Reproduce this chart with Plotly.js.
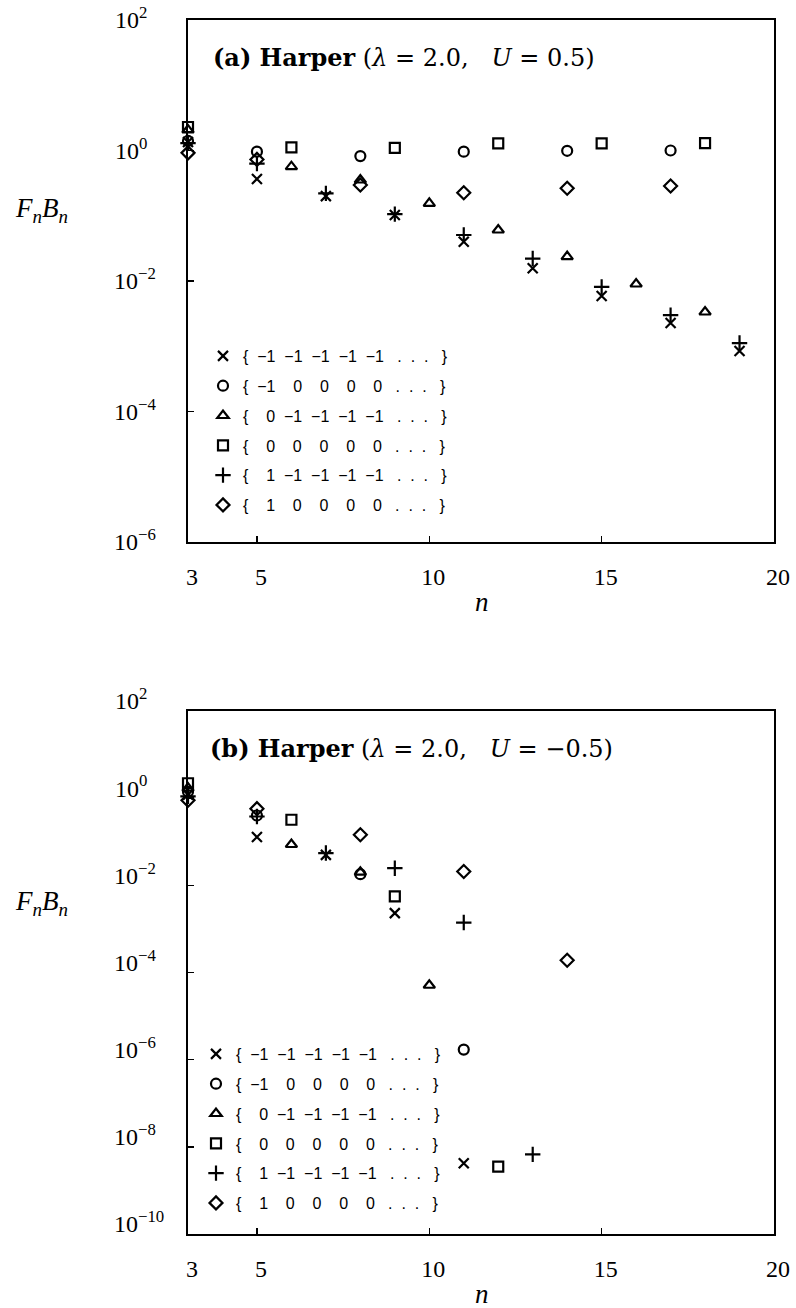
<!DOCTYPE html>
<html>
<head>
<meta charset="utf-8">
<script src="https://cdn.plot.ly/plotly-3.0.1.min.js"></script>
<style>html,body{margin:0;padding:0;background:#fff;}#chart{width:796px;height:1308px;}</style>
</head>
<body>
<div id="chart"></div>
<script>
// ---------- DATA ----------
// Panel (a): Harper, lambda = 2.0, U = 0.5
const nA_x   = [3, 5, 7, 9, 11, 13, 15, 17, 19];
const yA_x   = [1.35, 0.366, 0.20, 0.103, 0.040, 0.0157, 0.0059, 0.00227, 0.000845];
const nA_o   = [3, 5, 8, 11, 14, 17];
const yA_o   = [1.40, 0.96, 0.82, 0.96, 0.99, 1.0];
const nA_tri = [3, 6, 8, 10, 12, 14, 16, 18];
const yA_tri = [2.06, 0.565, 0.353, 0.155, 0.0605, 0.0236, 0.0090, 0.00335];
const nA_sq  = [3, 6, 9, 12, 15, 18];
const yA_sq  = [2.29, 1.12, 1.10, 1.29, 1.29, 1.30];
const nA_pl  = [3, 5, 7, 9, 11, 13, 15, 17, 19];
const yA_pl  = [1.30, 0.63, 0.22, 0.106, 0.0507, 0.0221, 0.0081, 0.0030, 0.00112];
const nA_di  = [3, 5, 8, 11, 14, 17];
const yA_di  = [0.92, 0.73, 0.296, 0.225, 0.264, 0.286];

// Panel (b): Harper, lambda = 2.0, U = -0.5
const nB_x   = [3, 5, 7, 9, 11];
const yB_x   = [1.2, 0.128, 0.050, 0.0023, 4.2e-9];
const nB_o   = [3, 5, 8, 11];
const yB_o   = [1.4, 0.40, 0.018, 1.7e-6];
const nB_tri = [3, 6, 8, 10];
const yB_tri = [1.7, 0.0865, 0.020, 5.1e-5];
const nB_sq  = [3, 6, 9, 12];
const yB_sq  = [2.2, 0.32, 0.00558, 3.5e-9];
const nB_pl  = [3, 5, 7, 9, 11, 13];
const yB_pl  = [1.1, 0.38, 0.055, 0.0247, 0.0014, 6.7e-9];
const nB_di  = [3, 5, 8, 11, 14];
const yB_di  = [0.9, 0.574, 0.145, 0.0207, 1.91e-4];

// Legend sequences (initial conditions)
const seqX   = [-1, -1, -1, -1, -1];
const seqO   = [-1, 0, 0, 0, 0];
const seqTri = [0, -1, -1, -1, -1];
const seqSq  = [0, 0, 0, 0, 0];
const seqPl  = [1, -1, -1, -1, -1];
const seqDi  = [1, 0, 0, 0, 0];

// Tick values / labels
const xTickVals = [3, 5, 10, 15, 20];
const xTickText = ['3', '5', '10', '15', '20'];
const yTickValsA = [1e2, 1e0, 1e-2, 1e-4, 1e-6];
const yTickTextA = ['10<sup>2\u2007\u2007</sup>', '10<sup>0\u2007\u2007</sup>', '10<sup>\u22122\u2007</sup>', '10<sup>\u22124\u2007</sup>', '10<sup>\u22126\u2007</sup>'];
const yTickValsB = [1e2, 1e0, 1e-2, 1e-4, 1e-6, 1e-8, 1e-10];
const yTickTextB = ['10<sup>2\u2007\u2007</sup>', '10<sup>0\u2007\u2007</sup>', '10<sup>\u22122\u2007</sup>', '10<sup>\u22124\u2007</sup>', '10<sup>\u22126\u2007</sup>', '10<sup>\u22128\u2007</sup>', '10<sup>\u221210</sup>'];

const titleA = '<b>(a) Harper</b> (<i>\u03bb</i> = 2.0,\u00a0\u00a0\u00a0<i>U</i> = 0.5)';
const titleB = '<b>(b) Harper</b> (<i>\u03bb</i> = 2.0,\u00a0\u00a0\u00a0<i>U</i> = \u22120.5)';
const xTitle = '<i>n</i>';
const yTitle = '<i>F</i><sub><i>n</i></sub><i>B</i><sub><i>n</i></sub>';

// ---------- BUILD ----------
const NB = '\u00a0';
function seqLabel(seq) {
  const cells = seq.map(v => v < 0 ? '\u2212' + Math.abs(v) : '\u2007' + v);
  return '{' + NB + NB + cells.join(NB + NB) + NB.repeat(3) + '.' + NB + NB + '.' + NB + NB + '.' + NB.repeat(3) + '}';
}

const symDefs = [
  {sym: 'x-thin-open',      size: 10, seq: seqX},
  {sym: 'circle-open',      size: 10, seq: seqO},
  {sym: 'triangle-up-open', size: 10, seq: seqTri},
  {sym: 'square-open',      size: 10, seq: seqSq},
  {sym: 'cross-thin-open',  size: 11, seq: seqPl},
  {sym: 'diamond-open',     size: 10, seq: seqDi}
];
const dataA = [[nA_x, yA_x], [nA_o, yA_o], [nA_tri, yA_tri], [nA_sq, yA_sq], [nA_pl, yA_pl], [nA_di, yA_di]];
const dataB = [[nB_x, yB_x], [nB_o, yB_o], [nB_tri, yB_tri], [nB_sq, yB_sq], [nB_pl, yB_pl], [nB_di, yB_di]];

const traces = [];
function addPanel(data, xa, ya, legend, tag) {
  data.forEach((d, i) => {
    const s = symDefs[i];
    traces.push({
      type: 'scatter', mode: 'markers', x: d[0], y: d[1], xaxis: xa, yaxis: ya,
      name: seqLabel(s.seq), legend: legend, legendgroup: tag + i,
      cliponaxis: false,
      marker: {symbol: s.sym, size: s.size, color: '#000', line: {color: '#000', width: 2.2}}
    });
  });
}
addPanel(dataA, 'x', 'y', 'legend', 'a');
addPanel(dataB, 'x2', 'y2', 'legend2', 'b');

const W = 796, H = 1308;
const xDom = [188 / W, 774 / W];
const yDomA = [1 - 542 / H, 1 - 20 / H];
const yDomB = [1 - 1234 / H, 1 - 711 / H];
const serif = 'Liberation Serif, Times New Roman, serif';

function xAxis(anchor) {
  return {
    domain: xDom, anchor: anchor, range: [3, 20], type: 'linear',
    tickmode: 'array', tickvals: xTickVals, ticktext: xTickText,
    ticks: 'inside', ticklen: 6, tickwidth: 1.5, tickcolor: '#000',
    showline: true, linecolor: '#000', linewidth: 2, mirror: true,
    showgrid: false, zeroline: false, automargin: false,
    tickfont: {family: serif, size: 24, color: '#000'},
    ticklabelstandoff: 12, ticklabelshift: 4
  };
}
function yAxis(anchor, dom, range, vals, text, shift) {
  return {
    domain: dom, anchor: anchor, type: 'log', range: range,
    tickmode: 'array', tickvals: vals, ticktext: text,
    ticks: 'inside', ticklen: 6, tickwidth: 1.5, tickcolor: '#000',
    showline: true, linecolor: '#000', linewidth: 2, mirror: true,
    showgrid: false, zeroline: false, automargin: false,
    tickfont: {family: serif, size: 24, color: '#000'},
    ticklabelstandoff: 17, ticklabelshift: shift
  };
}

const legendBase = {
  xanchor: 'left', yanchor: 'top', bgcolor: 'rgba(0,0,0,0)', borderwidth: 0,
  font: {family: 'Liberation Sans, Arial, sans-serif', size: 16, color: '#000'},
  tracegroupgap: 6, itemclick: false, itemdoubleclick: false
};

function ann(x, y, text, font, xanchor) {
  return {xref: 'paper', yref: 'paper', x: x / W, y: 1 - y / H, xanchor: xanchor, yanchor: 'middle',
          text: text, showarrow: false, font: font};
}
const titleFont = {family: 'DejaVu Serif, serif', size: 24, color: '#000'};
const labFont = {family: serif, size: 27, color: '#000'};

const layout = {
  width: W, height: H,
  margin: {l: 0, r: 0, t: 0, b: 0},
  paper_bgcolor: '#fff', plot_bgcolor: '#fff',
  xaxis: xAxis('y'),
  yaxis: yAxis('x', yDomA, [-6, 2], yTickValsA, yTickTextA, 0),
  xaxis2: xAxis('y2'),
  yaxis2: yAxis('x2', yDomB, [-10, 2], yTickValsB, yTickTextB, -10),
  legend: Object.assign({x: 203 / W, y: 1 - 339 / H}, legendBase),
  legend2: Object.assign({x: 196 / W, y: 1 - 1037 / H}, legendBase),
  showlegend: true,
  annotations: [
    ann(211, 57, titleA, titleFont, 'left'),
    ann(208, 748, titleB, titleFont, 'left'),
    ann(41, 210, yTitle, labFont, 'center'),
    ann(41, 903, yTitle, labFont, 'center'),
    ann(482, 602, xTitle, labFont, 'center'),
    ann(482, 1294, xTitle, labFont, 'center')
  ]
};

Plotly.newPlot('chart', traces, layout, {staticPlot: true, displayModeBar: false});
</script>
</body>
</html>
